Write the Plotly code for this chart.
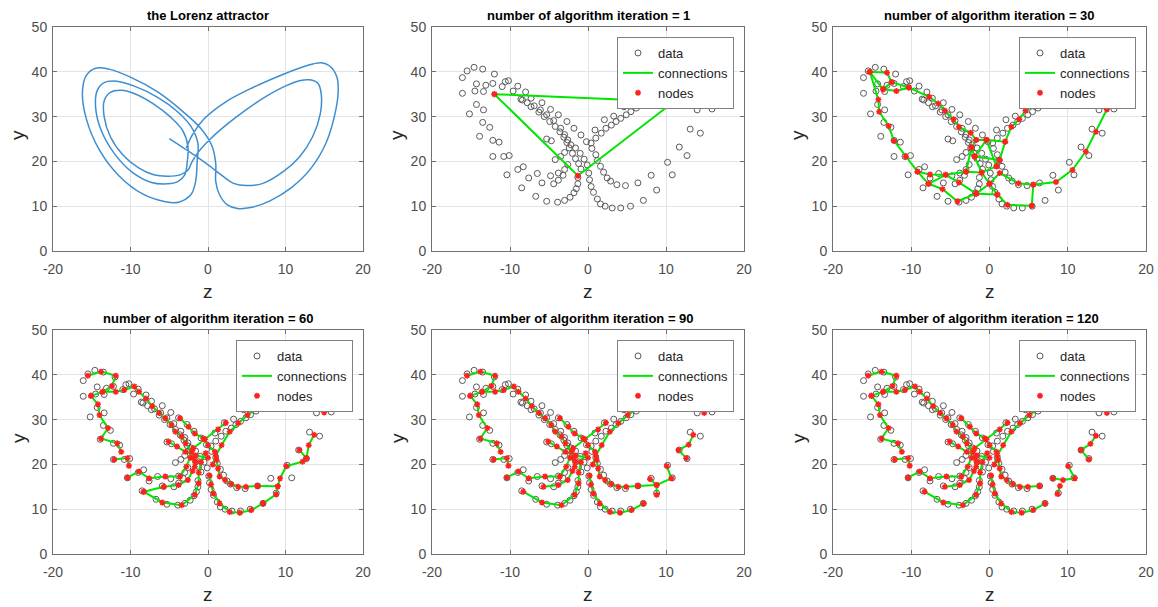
import plotly.graph_objects as go

# ---------------- data ----------------
titles = ["the Lorenz attractor",
          "number of algorithm iteration = 1",
          "number of algorithm iteration = 30",
          "number of algorithm iteration = 60",
          "number of algorithm iteration = 90",
          "number of algorithm iteration = 120"]
x_ticks = [-20, -10, 0, 10, 20]
x_ticktext = ["-20", "-10", "0", "10", "20"]
y_ticks = [0, 10, 20, 30, 40, 50]
y_ticktext = ["0", "10", "20", "30", "40", "50"]

lorenz = [(-5.0,25.1),(-2.8,22.6),(-0.2,19.5),(2.0,16.6),(3.3,15.1),(4.9,14.6),(7.1,15.1),(9.7,17.7),
          (11.8,21.0),(13.5,25.5),(14.5,30.7),(14.6,35.2),(14.2,37.4),(13.1,38.2),(11.8,38.0),(10.1,36.9),
          (7.5,34.5),(4.9,31.5),(2.4,28.2),(0.3,25.0),(-1.2,22.2),(-2.1,19.8),(-2.6,18.0),(-3.6,17.0),
          (-5.2,16.7),(-7.0,17.0),(-9.0,18.6),(-11.0,21.5),(-12.6,25.5),(-13.4,30.0),(-13.4,33.5),(-12.6,35.4),
          (-11.2,35.9),(-9.3,35.0),(-7.0,32.8),(-4.9,30.0),(-3.3,27.0),(-2.6,23.5),(-2.7,19.5),(-3.0,17.0),
          (-3.9,15.5),(-5.2,15.0),(-7.3,15.3),(-9.8,17.6),(-12.1,21.8),(-13.8,27.0),(-14.5,32.0),(-14.3,35.8),
          (-13.4,37.6),(-11.8,37.9),(-9.5,36.8),(-6.5,34.3),(-4.0,31.2),(-2.2,27.8),(-1.3,24.0),(-1.4,20.0),
          (-1.6,15.5),(-2.2,12.6),(-3.8,10.9),(-5.5,11.0),(-8.5,12.8),(-11.5,16.8),(-14.0,22.5),(-15.7,29.5),
          (-16.2,35.5),(-15.7,39.2),(-14.5,40.8),(-12.8,40.6),(-10.0,38.8),(-6.5,35.5),(-3.5,31.5),(-1.0,27.5),
          (0.5,23.5),(1.0,19.5),(1.0,15.5),(1.5,12.5),(2.5,10.3),(3.8,9.5),(5.5,9.7),(8.0,11.2),(10.8,14.2),
          (13.3,18.5),(15.2,24.0),(16.3,30.0),(16.8,35.5),(16.6,39.0),(15.7,41.3),(14.6,42.0),(12.6,41.3),
          (9.5,39.3),(5.8,36.5),(2.2,33.2),(-0.5,29.5),(-2.0,26.0),(-2.8,23.0)]

# sampled data points, grouped by strand
d_left_outer = [(-12.0,39.5),(-13.5,40.6),(-14.6,41.0),(-15.5,40.2),(-16.1,38.7),(-16.1,35.2),(-15.2,30.6),
                (-13.9,25.6),(-12.2,21.1),(-10.4,17.0),(-8.5,14.1),(-6.7,12.2),(-5.3,11.1),(-3.9,10.9),
                (-3.0,11.3),(-2.3,12.0),(-1.8,13.0),(-1.5,13.9),(-1.3,15.0),(-1.3,16.4)]
d_left_mid = [(-13.1,37.0),(-14.3,37.3),(-14.5,35.7),(-14.3,32.7),(-13.5,28.7),(-12.2,24.7),(-10.8,21.1),
              (-9.0,18.2),(-7.6,16.3),(-5.9,15.2),(-4.4,15.0),(-3.8,15.8),(-3.2,16.9)]
d_left_inner = [(-12.2,37.4),(-13.4,35.6),(-13.4,31.5),(-12.6,27.6),(-11.4,24.3),(-10.1,21.3),(-8.3,18.8),
                (-6.5,17.3),(-4.8,16.8),(-3.8,17.4),(-3.0,18.2),(-2.6,19.3)]
d_diag_a = [(-10.6,37.8),(-9.0,36.8),(-8.0,35.5),(-7.3,34.1),(-5.9,33.1),(-4.8,31.6),(-3.8,30.4),(-2.7,28.9),
            (-1.8,27.4),(-0.9,25.9),(-0.2,24.4),(0.5,22.9),(1.0,21.5),(1.2,20.2),(1.6,18.9),(2.0,17.6),
            (2.45,16.3),(2.9,15.6)]
d_diag_b = [(-11.0,36.7),(-10.2,38.0),(-9.6,35.7),(-8.6,33.9),(-7.8,33.1),(-6.9,32.4),(-6.1,31.5),(-5.3,30.4),
            (-4.4,29.1),(-3.5,27.4),(-3.0,26.0),(-2.6,24.8),(-2.2,23.7),(-1.6,23.0),(-1.0,21.8),(-0.5,20.5),
            (-0.1,19.2),(0.1,17.4),(0.2,15.9),(0.4,14.4),(0.7,13.1),(1.2,11.6),(1.6,10.5),(2.2,10.0),
            (3.1,9.6),(4.2,9.6),(5.45,10.0),(7.1,11.3),(8.8,13.6),(10.8,17.0),(12.7,21.3),(14.4,26.3),(15.9,31.7)]
d_diag_c = [(-8.4,33.7),(-7.3,32.2),(-6.3,31.0),(-5.6,30.0),(-4.9,28.9),(-4.2,27.8),(-3.6,26.6),(-3.1,25.4),
            (-2.7,24.2),(-2.4,23.0),(-2.0,21.8),(-1.6,20.6),(-1.2,19.5),(-0.9,18.3)]
d_start = [(-5.3,25.0),(-4.7,24.6),(-4.2,20.4),(-3.5,21.1),(-3.0,22.0)]
d_right_inner = [(14.0,31.5),(13.1,27.2),(11.7,23.2),(10.2,19.8),(8.1,16.9),(6.4,15.2),(4.8,14.6),(3.7,14.8)]
d_rise_a = [(0.4,24.1),(1.0,25.2),(1.7,26.3),(2.3,27.4),(3.0,28.1),(3.6,28.9),(4.2,29.6),(4.9,30.4),
            (5.5,31.1),(6.2,31.9),(6.8,32.6),(7.5,33.1),(8.1,33.7),(8.8,34.4),(9.6,35.2),(10.5,36.0),
            (11.5,36.8),(12.6,37.5),(13.6,37.6),(14.4,36.5),(14.6,34.0)]
d_rise_b = [(0.9,27.0),(2.1,29.3),(3.3,30.1),(4.6,32.2),(5.75,33.0),(6.6,33.7),(7.7,34.1),(8.8,35.2),
            (10.0,36.6),(11.5,38.0),(13.0,39.5),(14.5,40.5),(15.7,39.5),(16.4,37.0),(16.6,34.0)]
data_strands = [d_left_outer, d_left_mid, d_left_inner, d_diag_a, d_diag_b, d_diag_c,
                d_start, d_right_inner, d_rise_a, d_rise_b]

# graph (nodes + connections) per iteration panel, as chains of nodes
p1_chains = [[(-12.0,35.0),(11.0,33.3),(-1.3,16.8),(-12.0,35.0)]]

p30_chains = [
    [(-15.3,40.0),(-13.1,39.8),(-12.5,37.7),(-10.3,36.5),(-7.7,34.4),(-6.55,32.9),(-5.7,31.3),(-4.6,29.4),
     (-3.9,27.7),(-2.4,26.4),(-1.7,24.8),(-0.4,24.8),(2.0,24.4),(2.8,27.7),(3.8,29.4),(4.6,31.3),(5.8,32.6),(7.3,34.5)],
    [(-15.3,40.0),(-13.6,36.1),(-12.5,37.7)],
    [(-13.6,36.1),(-11.9,35.7),(-10.3,36.5)],
    [(-15.3,40.0),(-14.2,33.8),(-14.1,31.1),(-12.9,27.9),(-12.2,24.6),(-10.7,21.1),(-9.2,17.7),(-7.8,15.0),
     (-6.0,13.8),(-4.1,11.1),(-1.7,12.8),(1.0,12.6),(2.3,10.3),(5.4,10.1),(5.6,14.8),(8.5,15.4),(10.6,18.1),
     (12.3,22.2),(13.6,26.6),(15.0,31.6),(15.3,35.5)],
    [(-9.2,17.7),(-7.6,17.1),(-5.6,17.0),(-3.0,17.7),(-1.0,17.5),(0.9,18.9),(1.3,20.3),(2.0,24.4)],
    [(-7.8,15.0),(-5.6,17.0),(-3.9,15.3),(-1.7,12.8)],
    [(-1.7,12.8),(0.0,15.0),(1.3,17.4),(3.7,15.1),(5.6,14.8)],
    [(-1.7,24.8),(-2.3,23.1),(-1.9,21.1),(-0.4,24.8)],
    [(-2.3,23.1),(-3.0,17.7)],
    [(-1.9,21.1),(-1.0,17.5),(0.0,15.0)],
    [(-0.4,24.8),(0.9,18.9)],
    [(-1.9,21.1),(1.3,20.3)],
    [(0.0,15.0),(1.0,12.6)],
]

common_late = [
    [(-15.5,39.8),(-13.8,40.7),(-11.9,39.8),(-12.4,37.5),(-13.6,36.2),(-15.1,35.3)],
    [(-15.1,35.3),(-14.2,33.4),(-14.0,31.0),(-12.9,28.1),(-13.8,25.8),(-11.7,24.7),(-11.2,22.8)],
    [(-12.1,21.1),(-10.4,21.4),(-10.2,19.7)],
    [(-10.4,17.1),(-8.9,18.4),(-7.6,16.9),(-5.5,17.3),(-3.6,17.3),(-2.8,19.5),(-2.3,21.5)],
    [(-8.3,13.9),(-5.9,11.5),(-3.4,10.9),(-1.7,13.2),(-1.2,15.8),(-1.2,18.2),(-0.9,20.5),(-0.3,22.5)],
    [(-5.7,15.0),(-3.8,15.4),(-2.6,16.5),(-2.0,18.5),(-1.6,20.6)],
    [(-13.6,36.2),(-11.9,36.2),(-10.8,36.6),(-9.5,37.4),(-8.9,36.2),(-8.0,34.7),(-7.2,33.0),(-6.3,31.5),
     (-5.5,30.3),(-4.7,28.8),(-4.2,27.3),(-3.4,26.2),(-2.9,24.7),(-2.1,22.8),(-1.9,21.4),(-1.7,19.5)],
    [(-3.6,30.3),(-2.5,28.4),(-1.7,26.9),(-0.6,25.8),(0.0,24.3),(0.9,22.8),(1.1,21.0),(1.3,19.1),(1.5,17.3),
     (2.2,16.5),(3.0,15.6),(3.9,15.0),(4.9,15.0),(6.4,15.2)],
    [(-5.1,25.1),(-4.0,24.0),(-2.9,22.8),(-1.6,22.0),(0.0,21.5)],
    [(-1.9,23.6),(-0.4,25.6),(1.3,27.8),(2.3,29.3)],
    [(0.6,20.0),(1.0,22.0),(1.75,24.3),(2.8,27.3),(3.9,29.2),(5.1,31.0),(6.6,32.9),(7.9,34.4),(9.2,35.6)],
    [(0.2,17.5),(0.4,15.5),(0.7,13.5),(1.5,11.3),(2.8,9.4),(4.1,9.2),(5.6,9.8),(7.1,11.3)],
]
p60_right = [
    [(6.4,15.2),(9.0,15.1),(9.3,16.9),(10.1,19.6),(12.2,20.6),(12.7,21.4),(13.0,24.3),(13.7,26.6)],
    [(9.0,15.1),(8.8,13.3),(7.1,11.3)],
    [(12.7,21.4),(11.8,23.2)],
    [(15.0,31.6),(15.1,34.0),(15.2,36.5)],
    [(-8.3,13.9),(-5.7,15.0)],
]
p90_right = [
    [(6.4,15.2),(8.8,15.4),(10.7,16.9),(10.1,19.6)],
    [(7.95,16.7),(8.8,15.4),(8.8,13.2)],
    [(12.6,21.4),(11.6,23.2),(12.9,24.4),(13.5,26.6)],
    [(14.9,31.5),(15.0,34.0),(15.2,36.5)],
]
p120_right = [
    [(8.1,16.9),(9.4,16.5),(10.9,16.9),(10.05,19.6)],
    [(9.0,15.2),(8.7,13.4)],
    [(12.7,21.1),(11.7,23.2),(12.9,24.6),(13.6,26.4)],
    [(15.0,31.5),(15.0,34.0),(15.2,36.5)],
]
panel_graphs = [p1_chains, p30_chains, common_late + p60_right,
                common_late + p90_right, common_late + p120_right]

# ---------------- layout geometry ----------------
W, H = 1158, 607
cols = [(53, 363), (432, 744), (833, 1146)]
rows = [(27, 251), (330, 554)]
FONT = "Liberation Sans, Arial, sans-serif"

fig = go.Figure()


def chain_xy(chains):
    xs, ys = [], []
    for ch in chains:
        for (a, b) in ch:
            xs.append(a); ys.append(b)
        xs.append(None); ys.append(None)
    return xs, ys


data_z = [p[0] for s in data_strands for p in s]
data_y = [p[1] for s in data_strands for p in s]

layout = dict(template="none", width=W, height=H, margin=dict(l=0, r=0, t=0, b=0, autoexpand=False),
              paper_bgcolor="white", plot_bgcolor="white",
              font=dict(family=FONT, color="#262626"), annotations=[])

for k in range(6):
    r, c = divmod(k, 3)
    x0, x1 = cols[c]
    y0, y1 = rows[r]
    sx = "" if k == 0 else str(k + 1)
    xa, ya = "x" + sx, "y" + sx
    common_axis = dict(showline=True, linecolor="#707070", linewidth=1, mirror="ticks",
                       ticks="inside", ticklen=4, tickcolor="#707070", automargin=False,
                       showgrid=True, gridcolor="#e4e4e4", gridwidth=1, zeroline=False,
                       tickfont=dict(size=14, color="#4d4d4d", family=FONT), fixedrange=True)
    layout["xaxis" + sx] = dict(domain=[x0 / W, x1 / W], anchor=ya, range=[-20, 20],
                                tickvals=x_ticks, ticktext=x_ticktext, ticklabelstandoff=5, **common_axis)
    layout["yaxis" + sx] = dict(domain=[1 - y1 / H, 1 - y0 / H], anchor=xa, range=[0, 50],
                                tickvals=y_ticks, ticktext=y_ticktext, ticklabelstandoff=2, **common_axis)
    # title
    layout["annotations"].append(dict(text=titles[k], x=(x0 + x1) / 2 / W, y=1 - (y0 - 12) / H,
                                      xref="paper", yref="paper", showarrow=False,
                                      xanchor="center", yanchor="middle",
                                      font=dict(size=13, color="#000000", family=FONT, weight="bold")))
    # axis labels
    layout["annotations"].append(dict(text="z", x=(x0 + x1) / 2 / W, y=1 - (y1 + 40) / H,
                                      xref="paper", yref="paper", showarrow=False,
                                      xanchor="center", yanchor="middle",
                                      font=dict(size=19, color="#262626", family=FONT)))
    layout["annotations"].append(dict(text="y", x=(x0 - 35) / W, y=1 - ((y0 + y1) / 2 - 4) / H,
                                      xref="paper", yref="paper", showarrow=False, textangle=-90,
                                      xanchor="center", yanchor="middle",
                                      font=dict(size=19, color="#262626", family=FONT)))

    if k == 0:
        fig.add_trace(go.Scatter(x=[p[0] for p in lorenz], y=[p[1] for p in lorenz],
                                 mode="lines", line=dict(color="#3d8ed0", width=1.5, shape="spline", smoothing=1.0),
                                 xaxis=xa, yaxis=ya, showlegend=False, hoverinfo="skip"))
        continue

    leg = "legend" if k == 1 else "legend" + str(k)
    layout[leg] = dict(x=(x1 - 10) / W, y=1 - (y0 + 10) / H, xanchor="right", yanchor="top",
                       bgcolor="white", bordercolor="#808080", borderwidth=1,
                       font=dict(size=13, color="#262626", family=FONT),
                       tracegroupgap=0, itemsizing="trace", itemwidth=30)
    chains = panel_graphs[k - 1]
    cx, cy = chain_xy(chains)
    nx = [p[0] for ch in chains for p in ch]
    ny = [p[1] for ch in chains for p in ch]
    fig.add_trace(go.Scatter(x=data_z, y=data_y, mode="markers", name="data",
                             marker=dict(symbol="circle-open", size=6, color="#5a5a5a", line=dict(width=1)),
                             xaxis=xa, yaxis=ya, legend=leg, hoverinfo="skip"))
    fig.add_trace(go.Scatter(x=cx, y=cy, mode="lines", name="connections",
                             line=dict(color="#00e600", width=2), connectgaps=False,
                             xaxis=xa, yaxis=ya, legend=leg, hoverinfo="skip"))
    fig.add_trace(go.Scatter(x=nx, y=ny, mode="markers", name="nodes",
                             marker=dict(symbol="asterisk-open", size=5, color="#ff2020",
                                         line=dict(width=1.5, color="#ff2020")),
                             xaxis=xa, yaxis=ya, legend=leg, hoverinfo="skip"))

fig.update_layout(**layout)
fig.write_html("out.html", config={"displayModeBar": False},
               post_script="document.body.style.margin='0px';")
